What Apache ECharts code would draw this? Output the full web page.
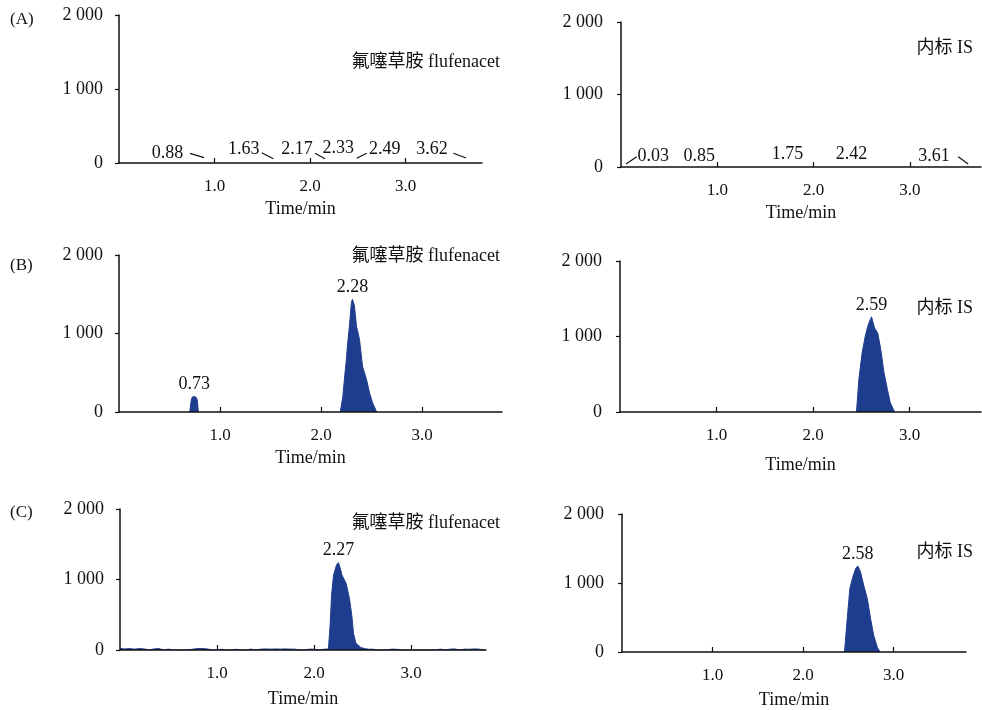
<!DOCTYPE html>
<html><head><meta charset="utf-8">
<script src="https://cdn.jsdelivr.net/npm/echarts@6/dist/echarts.min.js"></script>
<style>html,body{margin:0;padding:0;background:#fff}#c{width:982px;height:710px}</style>
</head><body><div id="c"></div>
<script>
// ---------- data ----------
const yTicks = [0, 1000, 2000];
const xTicks = [1, 2, 3];
const compoundName = '氟噻草胺 flufenacet';
const isName = '内标 IS';
const panelLetters = ['(A)', '(B)', '(C)'];
const xAxisName = 'Time/min';

// (A) blank samples: annotation labels [time, intensity, text] and small noise strokes
const aLeftLabels = [[0.508, 135, '0.88'], [1.307, 180, '1.63'], [1.864, 180, '2.17'], [2.296, 205, '2.33'], [2.782, 180, '2.49'], [3.277, 180, '3.62']];
const aLeftStrokes = [
  [[0.743, 131], [0.890, 72]],
  [[1.494, 139], [1.616, 58]],
  [[2.052, 131], [2.157, 58]],
  [[2.489, 63], [2.594, 131]],
  [[3.500, 131], [3.634, 68]]
];
const aRightLabels = [[0.335, 154, '0.03'], [0.812, 154, '0.85'], [1.729, 179, '1.75'], [2.395, 179, '2.42'], [3.252, 154, '3.61']];
const aRightStrokes = [
  [[0.052, 41], [0.163, 142]],
  [[3.503, 142], [3.607, 41]]
];

// (B) standard
const bLeftPeak1 = [[0.700, 0], [0.715, 150], [0.725, 190], [0.745, 196], [0.765, 185], [0.775, 150], [0.785, 0]];
const bLeftPeak1Label = '0.73';
const bLeftPeak2 = [[2.19, 0], [2.215, 196], [2.23, 410], [2.25, 667], [2.26, 837], [2.28, 1094], [2.30, 1397], [2.31, 1436], [2.33, 1350], [2.35, 1094], [2.38, 923], [2.41, 581], [2.45, 410], [2.48, 240], [2.51, 115], [2.55, 0]];
const bLeftPeak2Label = '2.28';
const bRightPeak = [[2.45, 0], [2.475, 436], [2.51, 797], [2.544, 1022], [2.572, 1157], [2.606, 1261], [2.637, 1112], [2.67, 1045], [2.70, 842], [2.734, 527], [2.77, 301], [2.80, 122], [2.845, 0]];
const bRightPeakLabel = '2.59';

// (C) spiked sample
const cLeftTrace = [
  [0.00, 20], [0.05, 15], [0.10, 20], [0.15, 12], [0.20, 20], [0.25, 15], [0.30, 0], [0.35, 15], [0.40, 20], [0.45, 0],
  [0.50, 12], [0.55, 0], [0.60, 0], [0.65, 0], [0.70, 0], [0.75, 12], [0.80, 20], [0.85, 20], [0.90, 15], [0.95, 0],
  [1.00, 0], [1.05, 10], [1.10, 0], [1.15, 0], [1.20, 10], [1.25, 0], [1.30, 0], [1.35, 12], [1.40, 0], [1.45, 12],
  [1.50, 15], [1.55, 12], [1.60, 15], [1.65, 12], [1.70, 15], [1.75, 12], [1.80, 12], [1.85, 0], [1.90, 0], [1.95, 12],
  [2.00, 10], [2.05, 0], [2.10, 10], [2.147, 15], [2.165, 370], [2.18, 790], [2.20, 1065], [2.23, 1205], [2.25, 1240],
  [2.27, 1157], [2.285, 1065], [2.30, 1060], [2.32, 972], [2.33, 940], [2.365, 718], [2.39, 463], [2.405, 236], [2.43, 97],
  [2.48, 35], [2.52, 20], [2.56, 10], [2.60, 12], [2.65, 0], [2.70, 0], [2.75, 0], [2.80, 12], [2.85, 10], [2.90, 0],
  [2.95, 0], [3.00, 0], [3.05, 0], [3.10, 0], [3.15, 0], [3.20, 0], [3.25, 0], [3.30, 12], [3.35, 0], [3.40, 12],
  [3.45, 15], [3.50, 0], [3.55, 12], [3.60, 10], [3.65, 15], [3.70, 12], [3.75, 0]
];
const cLeftPeakLabel = '2.27';
const cRightPeak = [[2.458, 0], [2.488, 483], [2.517, 918], [2.544, 1062], [2.58, 1208], [2.605, 1246], [2.635, 1160], [2.67, 966], [2.71, 773], [2.746, 483], [2.78, 242], [2.82, 70], [2.85, 0]];
const cRightPeakLabel = '2.58';

// ---------- layout / style ----------
const FONT = "'Liberation Serif', 'Times New Roman', 'Noto Sans CJK SC', serif";
const BLUE = '#1f3d8e';
const INK = '#111';

const panels = [
  { grid: { left: 119, top: 15, width: 363, height: 148 }, xMax: 3.8, nameGap: 37, ylm: 16,
    traces: [], peakLabels: [], labels: aLeftLabels, strokes: aLeftStrokes,
    title: compoundName, titlePos: [500, 62], letter: panelLetters[0], letterY: 20 },
  { grid: { left: 621, top: 22, width: 360, height: 145 }, xMax: 3.74, nameGap: 37, ylm: 18,
    traces: [], peakLabels: [], labels: aRightLabels, strokes: aRightStrokes,
    title: isName, titlePos: [973, 48] },
  { grid: { left: 119, top: 255, width: 383, height: 157 }, xMax: 3.79, nameGap: 37, ylm: 16,
    traces: [bLeftPeak1, bLeftPeak2], peakLabels: [[bLeftPeak1, bLeftPeak1Label], [bLeftPeak2, bLeftPeak2Label]],
    labels: [], strokes: [], title: compoundName, titlePos: [500, 256], letter: panelLetters[1], letterY: 266 },
  { grid: { left: 620, top: 261, width: 361, height: 151 }, xMax: 3.74, nameGap: 44, ylm: 18,
    traces: [bRightPeak], peakLabels: [[bRightPeak, bRightPeakLabel]],
    labels: [], strokes: [], title: isName, titlePos: [973, 308] },
  { grid: { left: 120, top: 509, width: 366, height: 141 }, xMax: 3.77, nameGap: 40, ylm: 16,
    traces: [cLeftTrace], peakLabels: [[cLeftTrace, cLeftPeakLabel]],
    labels: [], strokes: [], title: compoundName, titlePos: [500, 523], letter: panelLetters[2], letterY: 513 },
  { grid: { left: 622, top: 514, width: 344, height: 140 }, xMax: 3.8, nameGap: 39, ylm: 18,
    traces: [cRightPeak], peakLabels: [[cRightPeak, cRightPeakLabel]],
    labels: [], strokes: [], title: isName, titlePos: [973, 552] }
];

function peakTop(arr) {
  let best = arr[0];
  arr.forEach(p => { if (p[1] > best[1]) best = p; });
  return best;
}

const labelStyle = { fontFamily: FONT, fontSize: 18, color: INK, opacity: 1, textBorderWidth: 0, textBorderColor: 'transparent', textShadowBlur: 0 };

const grids = [], xAxes = [], yAxes = [], series = [], graphics = [];
panels.forEach((p, i) => {
  grids.push(p.grid);
  xAxes.push({
    type: 'value', gridIndex: i, min: 0, max: p.xMax, interval: 1, z: 5,
    name: xAxisName, nameLocation: 'middle', nameGap: p.nameGap,
    nameTextStyle: { fontFamily: FONT, fontSize: 18, color: INK },
    axisLine: { show: true, lineStyle: { color: INK, width: 1.5 } },
    axisTick: { show: true, inside: true, length: 5, customValues: xTicks, lineStyle: { color: INK, width: 1.2 } },
    axisLabel: { customValues: xTicks, margin: 15, fontFamily: FONT, fontSize: 17, color: INK,
      formatter: v => (Number.isInteger(v) && v > 0) ? v.toFixed(1) : '' },
    splitLine: { show: false }
  });
  yAxes.push({
    type: 'value', gridIndex: i, min: yTicks[0], max: yTicks[yTicks.length - 1], interval: 1000, z: 5,
    axisLine: { show: true, lineStyle: { color: INK, width: 1.5 } },
    axisTick: { show: true, inside: false, length: 4, lineStyle: { color: INK, width: 1.2 } },
    axisLabel: { margin: p.ylm, fontFamily: FONT, fontSize: 18, color: INK,
      formatter: v => v === 0 ? '0' : (v / 1000) + ' 000' },
    splitLine: { show: false }
  });
  p.traces.forEach(tr => {
    series.push({
      type: 'line', xAxisIndex: i, yAxisIndex: i, data: tr, symbol: 'none', silent: true,
      lineStyle: { color: BLUE, width: 1 }, areaStyle: { color: BLUE, opacity: 1 }, z: 2
    });
  });
  p.peakLabels.forEach(([tr, txt]) => {
    series.push({
      type: 'scatter', xAxisIndex: i, yAxisIndex: i, data: [peakTop(tr)], symbolSize: 0, silent: true,
      itemStyle: { color: '#fff', opacity: 1 },
      label: Object.assign({ show: true, position: 'top', distance: 3, formatter: txt }, labelStyle), z: 6
    });
  });
  if (p.labels.length) {
    series.push({
      type: 'scatter', xAxisIndex: i, yAxisIndex: i, data: p.labels.map(l => ({ value: [l[0], l[1]], name: l[2] })),
      symbolSize: 0, silent: true, itemStyle: { color: '#fff', opacity: 1 },
      label: Object.assign({ show: true, position: 'inside', formatter: pp => pp.name }, labelStyle), z: 6
    });
  }
  p.strokes.forEach(s => {
    series.push({
      type: 'line', xAxisIndex: i, yAxisIndex: i, data: s, symbol: 'none', silent: true,
      lineStyle: { color: INK, width: 1.2 }, z: 6
    });
  });
  graphics.push({
    type: 'text', x: p.titlePos[0], y: p.titlePos[1],
    style: { text: p.title, fontFamily: FONT, fontSize: 18, fill: INK, align: 'right', verticalAlign: 'middle' }
  });
  if (p.letter) {
    graphics.push({
      type: 'text', x: 10, y: p.letterY,
      style: { text: p.letter, fontFamily: FONT, fontSize: 17, fill: INK, align: 'left', verticalAlign: 'middle' }
    });
  }
});

const chart = echarts.init(document.getElementById('c'), null, { renderer: 'canvas' });
chart.setOption({
  animation: false,
  backgroundColor: '#fff',
  grid: grids,
  xAxis: xAxes,
  yAxis: yAxes,
  series: series,
  graphic: graphics
});
</script>
</body></html>
